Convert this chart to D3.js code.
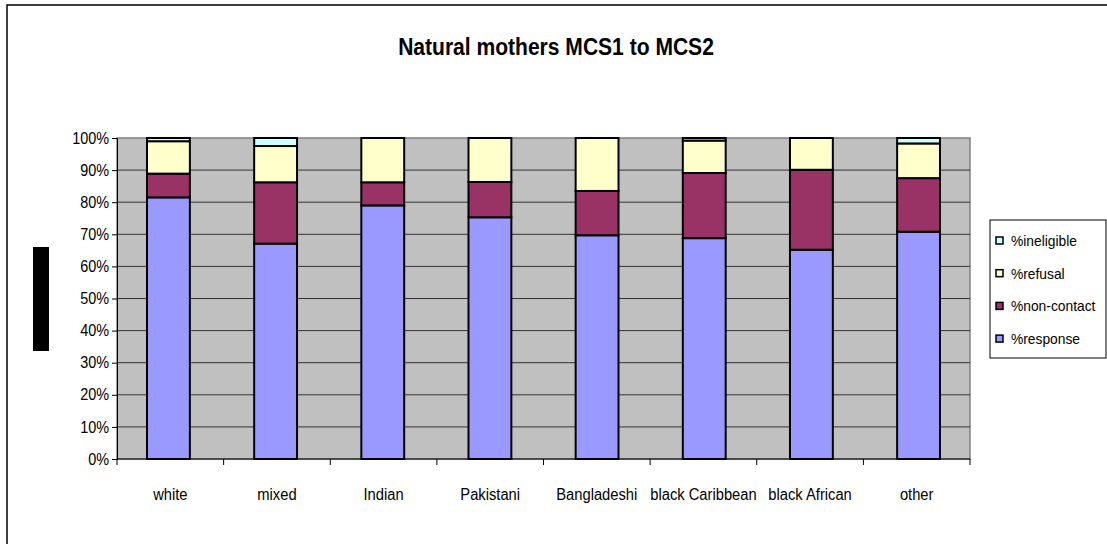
<!DOCTYPE html>
<html>
<head>
<meta charset="utf-8">
<script src="https://cdn.jsdelivr.net/npm/d3@7"></script>
<style>
  body { margin: 0; background: #fff; }
  svg { display: block; }
  text { font-family: "Liberation Sans Narrow", "Arial Narrow", "Liberation Sans", Arial, sans-serif; }
</style>
</head>
<body>
<div id="chart"></div>
<script>
// data (percent of natural mothers)
var categories = ["white", "mixed", "Indian", "Pakistani", "Bangladeshi", "black Caribbean", "black African", "other"];
var response   = [81.5, 67.1, 79.0, 75.3, 69.7, 68.8, 65.2, 70.8];
var nonContact = [7.4, 19.1, 7.2, 11.0, 13.8, 20.3, 24.9, 16.7];
var refusal    = [10.1, 11.3, 13.8, 13.7, 16.5, 10.1, 9.9, 10.8];
var ineligible = [1.0, 2.5, 0, 0, 0, 0.8, 0, 1.7];
var yTicks = [0, 10, 20, 30, 40, 50, 60, 70, 80, 90, 100];

var seriesKeys   = ["response", "nonContact", "refusal", "ineligible"];
var seriesLabels = {response: "%response", nonContact: "%non-contact", refusal: "%refusal", ineligible: "%ineligible"};
var colors       = {response: "#9999ff", nonContact: "#993366", refusal: "#ffffcc", ineligible: "#ccffff"};

var rows = categories.map(function(c, i) {
  return {cat: c, response: response[i], nonContact: nonContact[i], refusal: refusal[i], ineligible: ineligible[i]};
});

var W = 1107, H = 544;
var margin = {top: 138, right: 137, bottom: 85, left: 117},
    width = W - margin.left - margin.right,
    height = H - margin.top - margin.bottom;

var svg = d3.select("#chart").append("svg")
    .attr("width", W)
    .attr("height", H);

// squeeze text a little so it looks like the narrow font of the original
function squeeze(sel, k) {
  sel.each(function() {
    var w = this.getComputedTextLength();
    d3.select(this).attr("textLength", w * k).attr("lengthAdjust", "spacingAndGlyphs");
  });
}

// outer chart border (runs off the right / bottom edge)
svg.append("rect")
    .attr("x", 7).attr("y", 5)
    .attr("width", 1300).attr("height", 700)
    .attr("fill", "none")
    .attr("stroke", "#000")
    .attr("stroke-width", 1.5);

// title
svg.append("text")
    .attr("x", 556)
    .attr("y", 55)
    .attr("text-anchor", "middle")
    .style("font-size", "23px")
    .style("font-weight", "bold")
    .text("Natural mothers MCS1 to MCS2")
    .call(squeeze, 0.915);

// the black block where the y axis title should be
svg.append("rect")
    .attr("x", 33).attr("y", 247)
    .attr("width", 16).attr("height", 104)
    .attr("fill", "#000");

var g = svg.append("g")
    .attr("transform", "translate(" + margin.left + "," + margin.top + ")");

var x = d3.scaleBand().domain(categories).range([0, width]).paddingInner(0.6).paddingOuter(0.28);
var xb = d3.scaleBand().domain(categories).range([0, width]);
var y = d3.scaleLinear().domain([0, 100]).range([height, 0]);

// plot area
g.append("rect")
    .attr("width", width).attr("height", height)
    .attr("fill", "#c0c0c0")
    .attr("stroke", "#808080")
    .attr("stroke-width", 1.5);

// gridlines
g.append("g")
    .selectAll("line")
    .data(yTicks.slice(1, -1))
    .enter().append("line")
    .attr("x1", 0).attr("x2", width)
    .attr("y1", function(d) { return y(d); })
    .attr("y2", function(d) { return y(d); })
    .attr("stroke", "#333")
    .attr("stroke-width", 1);

// stacked bars
var stack = d3.stack().keys(seriesKeys);
var layers = stack(rows);

g.selectAll(".layer")
    .data(layers)
    .enter().append("g")
    .attr("class", "layer")
    .attr("fill", function(d) { return colors[d.key]; })
  .selectAll("rect")
    .data(function(d) { return d.filter(function(p) { return p[1] - p[0] > 0; }); })
    .enter().append("rect")
    .attr("x", function(d) { return x(d.data.cat); })
    .attr("width", x.bandwidth())
    .attr("y", function(d) { return y(d[1]); })
    .attr("height", function(d) { return y(d[0]) - y(d[1]); })
    .attr("stroke", "#000")
    .attr("stroke-width", 2);

// y axis
var yAxis = g.append("g")
    .call(d3.axisLeft(y).tickValues(yTicks).tickSize(5).tickPadding(3)
      .tickFormat(function(d) { return d + "%"; }));
yAxis.select(".domain").attr("stroke", "#000");
yAxis.selectAll("text")
    .style("font-size", "16px")
    .attr("fill", "#000")
    .call(squeeze, 0.9);

// x axis, ticks between the categories
var xAxis = g.append("g")
    .attr("transform", "translate(0," + height + ")");
xAxis.append("line")
    .attr("x1", 0).attr("x2", width)
    .attr("stroke", "#000").attr("stroke-width", 1);
xAxis.selectAll(".tick")
    .data(categories.concat([null]))
    .enter().append("line")
    .attr("x1", function(d, i) { return i * xb.step(); })
    .attr("x2", function(d, i) { return i * xb.step(); })
    .attr("y1", 0).attr("y2", 6)
    .attr("stroke", "#000");
xAxis.selectAll(".lbl")
    .data(categories)
    .enter().append("text")
    .attr("x", function(d) { return xb(d) + xb.bandwidth() / 2; })
    .attr("y", 41)
    .attr("text-anchor", "middle")
    .style("font-size", "16px")
    .text(function(d) { return d; })
    .call(squeeze, 0.92);

// legend
var legend = svg.append("g").attr("transform", "translate(990,220)");
legend.append("rect")
    .attr("width", 116).attr("height", 138)
    .attr("fill", "#fff")
    .attr("stroke", "#000")
    .attr("stroke-width", 1);

var legendKeys = seriesKeys.slice().reverse();
var li = legend.selectAll(".item")
    .data(legendKeys)
    .enter().append("g")
    .attr("transform", function(d, i) { return "translate(0," + (21 + i * 32.7) + ")"; });
li.append("rect")
    .attr("x", 6).attr("y", -4)
    .attr("width", 7).attr("height", 7)
    .attr("fill", function(d) { return colors[d]; })
    .attr("stroke", "#000")
    .attr("stroke-width", 1.5);
li.append("text")
    .attr("x", 21).attr("y", 5)
    .style("font-size", "15px")
    .text(function(d) { return seriesLabels[d]; })
    .call(squeeze, 0.92);
</script>
</body>
</html>
